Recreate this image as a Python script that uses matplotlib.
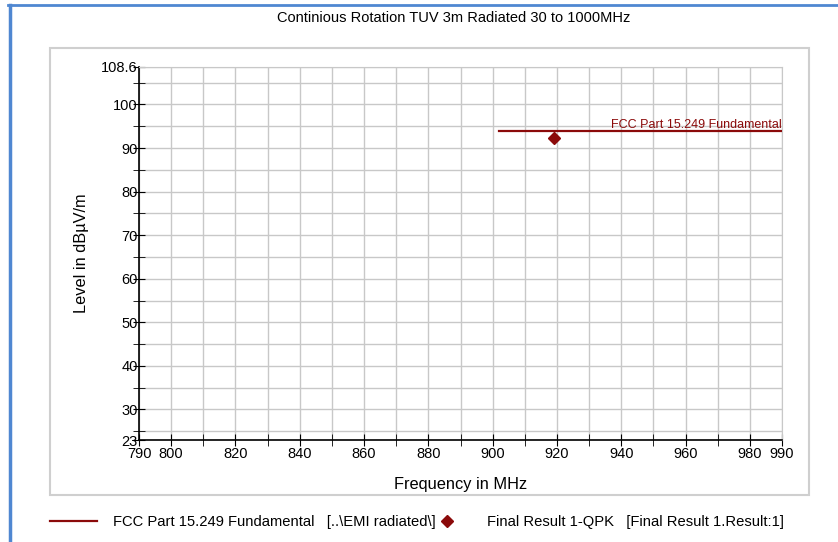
import matplotlib
matplotlib.use('Agg')
import matplotlib.pyplot as plt
from matplotlib.lines import Line2D
from matplotlib.patches import Rectangle

plt.rcParams['font.family'] = ['Liberation Sans', 'DejaVu Sans']

# limit line (FCC Part 15.249 fundamental) and final QPK result
limit_freq = [902, 990]
limit_level = [94, 94]
result_freq = [919.1]
result_level = [92.3]

x_major = [790, 800, 820, 840, 860, 880, 900, 920, 940, 960, 980, 990]
x_minor = [810, 830, 850, 870, 890, 910, 930, 950, 970]
y_major = [23, 30, 40, 50, 60, 70, 80, 90, 100, 108.6]
y_minor = [25, 35, 45, 55, 65, 75, 85, 95, 105]
y_labels = ['23', '30', '40', '50', '60', '70', '80', '90', '100', '108.6']

W, H = 838, 542
dark_red = '#8b0a0a'
grid_col = '#c8c8c8'

fig = plt.figure(figsize=(W / 100, H / 100), dpi=100)
ax = fig.add_axes([139 / W, 1 - 440 / H, 643 / W, 373 / H])

# outer frame bits
fig.add_artist(Line2D([9.5 / W, 9.5 / W], [0, 1 - 5 / H], color='#4f87d1', lw=2.5))
fig.add_artist(Line2D([8 / W, 1], [1 - 5 / H, 1 - 5 / H], color='#4f87d1', lw=2))
fig.add_artist(Rectangle((50 / W, 1 - 495 / H), 759 / W, 447 / H, fill=False,
                         edgecolor='#cfcfcf', lw=1.5, zorder=0))

ax.plot(limit_freq, limit_level, color=dark_red, lw=1.6, zorder=3)
ax.plot(result_freq, result_level, 'D', color=dark_red, ms=6.5, zorder=4)
ax.text(limit_freq[-1], limit_level[-1] - 0.1, 'FCC Part 15.249 Fundamental',
        color=dark_red, fontsize=9, ha='right', va='bottom')

ax.set_xlim(790, 990)
ax.set_ylim(23, 108.6)
ax.set_xticks(x_major)
ax.set_xticks(x_minor, minor=True)
ax.set_yticks(y_major)
ax.set_yticklabels(y_labels)
ax.set_yticks(y_minor, minor=True)

ax.grid(True, which='both', color=grid_col, lw=1)
ax.set_axisbelow(True)
ax.tick_params(which='both', direction='inout', color='black', labelsize=10.5, pad=1)
ax.tick_params(axis='y', pad=-3)
ax.tick_params(which='major', length=8)
ax.tick_params(which='minor', length=8)
for s in ['top', 'right']:
    ax.spines[s].set_color(grid_col)
ax.spines['left'].set_linewidth(1.2)
ax.spines['bottom'].set_linewidth(1.2)

ax.set_xlabel('Frequency in MHz', fontsize=11.8)
ax.xaxis.set_label_coords(0.5, -0.1)
ax.set_ylabel('Level in dBµV/m', fontsize=11.8)
ax.yaxis.set_label_coords(-0.078, 0.5)

fig.text(453.5 / W, 1 - 18 / H, 'Continious Rotation TUV 3m Radiated 30 to 1000MHz',
         ha='center', va='center', fontsize=10.5)

# legend below the panel
h1 = Line2D([], [], color=dark_red, lw=1.6)
h2 = Line2D([], [], color=dark_red, marker='D', ls='none', ms=6.5)
fig.legend([h1], ['FCC Part 15.249 Fundamental   [..\\EMI radiated\\]'],
           loc='center left', bbox_to_anchor=(50 / W, 1 - 522 / H),
           frameon=False, fontsize=10.6, borderpad=0, borderaxespad=0,
           handlelength=3.2, handletextpad=1.1)
fig.legend([h2], ['Final Result 1-QPK   [Final Result 1.Result:1]'],
           loc='center left', bbox_to_anchor=(441 / W, 1 - 522 / H),
           frameon=False, fontsize=10.6, borderpad=0, borderaxespad=0,
           handlelength=0.85, handletextpad=2.3)

fig.savefig('out.png', dpi=100)
